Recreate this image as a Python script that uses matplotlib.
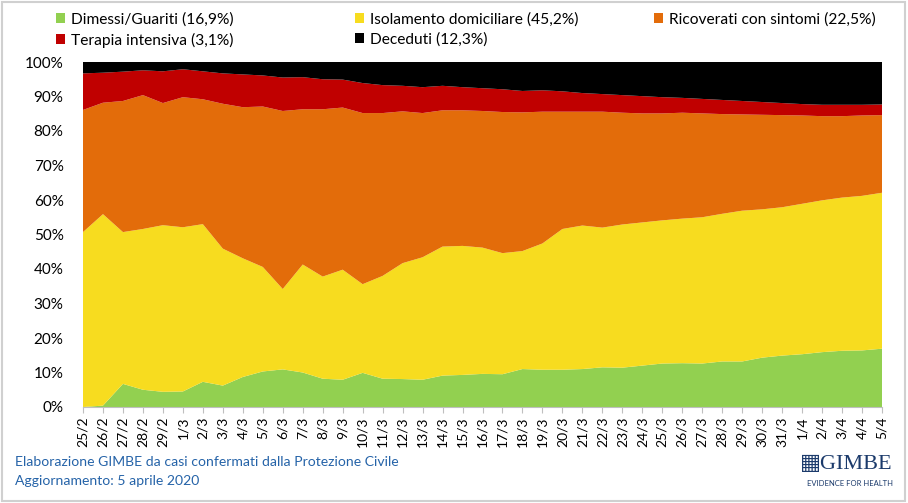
import matplotlib.pyplot as plt
import numpy as np
from matplotlib.patches import Rectangle

plt.rcParams['font.family'] = ['Lato', 'DejaVu Sans']

dates = ['25/2', '26/2', '27/2', '28/2', '29/2', '1/3', '2/3', '3/3', '4/3', '5/3',
         '6/3', '7/3', '8/3', '9/3', '10/3', '11/3', '12/3', '13/3', '14/3', '15/3',
         '16/3', '17/3', '18/3', '19/3', '20/3', '21/3', '22/3', '23/3', '24/3', '25/3',
         '26/3', '27/3', '28/3', '29/3', '30/3', '31/3', '1/4', '2/4', '3/4', '4/4', '5/4']

# percent of total cases per category
dimessi = [0.0, 0.4, 6.7, 5.0, 4.4, 4.5, 7.3, 6.2, 8.7, 10.3,
           10.9, 10.0, 8.2, 7.9, 9.9, 8.2, 8.1, 7.9, 9.1, 9.3,
           9.6, 9.5, 11.0, 10.8, 10.8, 11.0, 11.5, 11.4, 12.0, 12.6,
           12.7, 12.6, 13.2, 13.2, 14.3, 14.9, 15.3, 15.9, 16.3, 16.4, 16.9]
isolamento = [50.7, 55.5, 44.0, 46.6, 48.3, 47.6, 45.7, 39.7, 34.4, 30.3,
              23.3, 31.3, 29.6, 31.9, 25.7, 29.8, 33.6, 35.5, 37.4, 37.4,
              36.6, 35.1, 34.2, 36.6, 40.8, 41.6, 40.5, 41.5, 41.5, 41.5,
              41.9, 42.4, 42.8, 43.7, 43.0, 43.0, 43.6, 44.0, 44.4, 44.8, 45.2]
ricoverati = [35.4, 32.3, 38.0, 38.8, 35.4, 37.7, 36.2, 42.0, 43.8, 46.5,
              51.6, 45.0, 48.5, 47.0, 49.6, 47.2, 44.0, 41.8, 39.5, 39.3,
              39.6, 40.9, 40.2, 38.2, 34.0, 33.0, 33.6, 32.4, 31.6, 31.0,
              30.7, 30.1, 28.9, 27.9, 27.4, 26.7, 25.6, 24.4, 23.6, 23.3, 22.5]
terapia = [10.6, 8.7, 8.5, 7.2, 9.2, 8.1, 8.1, 8.8, 9.5, 9.0,
           9.7, 9.3, 8.7, 8.1, 8.7, 8.1, 7.4, 7.5, 7.1, 6.7,
           6.6, 6.6, 6.2, 6.2, 5.9, 5.4, 5.1, 5.1, 5.0, 4.7,
           4.3, 4.2, 4.1, 3.9, 3.7, 3.5, 3.3, 3.3, 3.3, 3.1, 3.1]
deceduti = [3.3, 3.1, 2.8, 2.4, 2.7, 2.1, 2.7, 3.3, 3.6, 3.9,
            4.5, 4.4, 5.0, 5.1, 6.1, 6.7, 6.9, 7.3, 6.9, 7.3,
            7.6, 7.9, 8.4, 8.2, 8.5, 9.0, 9.3, 9.6, 9.9, 10.2,
            10.4, 10.7, 11.0, 11.3, 11.6, 11.9, 12.2, 12.4, 12.4, 12.4, 12.3]

labels = ['Dimessi/Guariti (16,9%)', 'Isolamento domiciliare (45,2%)',
          'Ricoverati con sintomi (22,5%)', 'Terapia intensiva (3,1%)',
          'Deceduti (12,3%)']
colors = ['#92D050', '#F7DC1F', '#E36C0A', '#C00000', '#000000']

fig = plt.figure(figsize=(9.08, 5.03), dpi=100)
ax = fig.add_axes([83/908, 96/503, 799/908, 345/503])

x = np.arange(len(dates))
data = np.array([dimessi, isolamento, ricoverati, terapia, deceduti])
polys = ax.stackplot(x, data, colors=colors, labels=labels, linewidth=0)

ax.set_xlim(0, len(dates) - 1)
ax.set_ylim(0, 100)
ax.set_yticks(np.arange(0, 101, 10))
ax.set_yticklabels(['{}%'.format(v) for v in range(0, 101, 10)], fontsize=11)
ax.set_xticks(x)
ax.set_xticklabels(dates, rotation=90, fontsize=10)
ax.tick_params(axis='y', length=0, pad=14)
ax.tick_params(axis='x', length=4, color='#BFBFBF', pad=3)
for s in ['top', 'right', 'left']:
    ax.spines[s].set_visible(False)
ax.spines['bottom'].set_color('#BFBFBF')

# legend on top: three columns placed like the original
columns = [([0, 3], 56), ([1, 4], 355), ([2], 654)]
for idx, xpix in columns:
    fig.legend([polys[i] for i in idx], [labels[i] for i in idx],
               loc='upper left', bbox_to_anchor=(xpix/908, 1 - 12/503),
               frameon=False, fontsize=11.2, borderpad=0, borderaxespad=0,
               handlelength=0.6, handleheight=0.6, handletextpad=0.35,
               labelspacing=0.4)

fig.text(15/908, 1 - 462/503, 'Elaborazione GIMBE da casi confermati dalla Protezione Civile',
         fontsize=10.1, color='#2563A8', va='center')
fig.text(15/908, 1 - 481/503, 'Aggiornamento: 5 aprile 2020',
         fontsize=10.1, color='#2563A8', va='center')

# logo as text
fig.text(893/908, 1 - 465/503, '\u25a6GIMBE', fontsize=16, color='#1B3A6B',
         ha='right', va='center', family=['Liberation Serif', 'DejaVu Sans'])
fig.text(893/908, 1 - 483/503, 'EVIDENCE FOR HEALTH', fontsize=5.5, color='#1B3A6B',
         ha='right', va='center')

fig.patches.append(Rectangle((2/908, 2/503), 903/908, 499/503, transform=fig.transFigure,
                             fill=False, edgecolor='#D0D0D0', linewidth=1.5))

fig.savefig('out.png', dpi=100)
